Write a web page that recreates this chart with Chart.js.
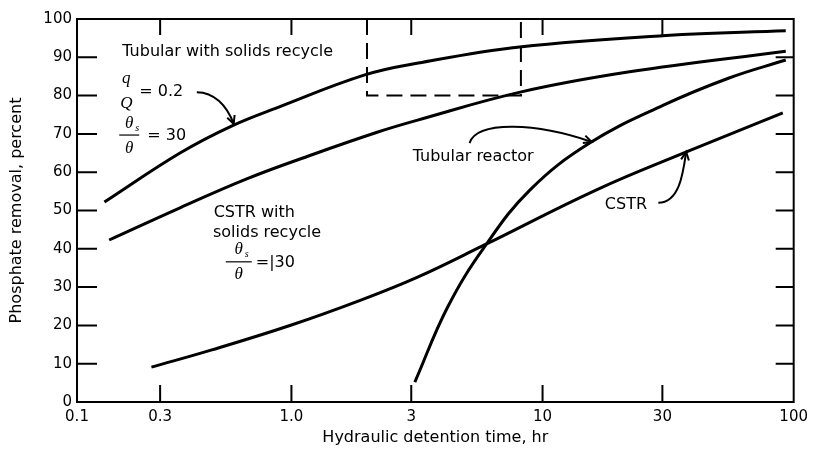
<!DOCTYPE html>
<html>
<head>
<meta charset="utf-8">
<script src="https://cdn.jsdelivr.net/npm/chart.js@4.4.1/dist/chart.umd.min.js"></script>
<style>
  html, body { margin: 0; padding: 0; background: #fff; }
  #wrap { width: 814px; height: 461px; }
</style>
</head>
<body>
<div id="wrap"><canvas id="grafico" width="814" height="461"></canvas></div>
<script>
// detention time (hr) -> phosphate removal (%)
const tubRecycleX  = [0.18, 0.36, 0.58, 0.89, 1.96, 3.2, 8.1, 31, 93];
const tubRecycleY  = [52.2, 65.0, 72.1, 77.0, 85.4, 88.5, 92.7, 95.7, 96.9];

const cstrRecycleX = [0.188, 0.36, 0.66, 1.2, 2.21, 3.18, 8.15, 22.2, 93];
const cstrRecycleY = [42.3, 50.7, 58.2, 64.5, 70.5, 73.6, 80.9, 86.2, 91.6];

const tubularX     = [3.1, 4.19, 5.87, 8.92, 15.4, 30.3, 55.3, 93];
const tubularY     = [5.2, 24.8, 40.5, 55.4, 67.6, 77.5, 84.6, 89.3];

const cstrX        = [0.277, 0.482, 1.0, 1.89, 3.18, 5.87, 16.4, 37.4, 90.5];
const cstrY        = [9.1, 13.6, 20.1, 26.6, 32.6, 41.0, 55.4, 65.3, 75.5];

// dashed box
const boxX = [2, 2, 8.2, 8.2];
const boxY = [100, 80, 80, 100];

// axis ticks (the origin of the time axis is printed as 0.1)
const xMin        = 0.14;
const xTickVals   = [xMin, 0.3, 1, 3, 10, 30, 100];
const xTickLabels = ['0.1', '0.3', '1.0', '3', '10', '30', '100'];
const xInnerTicks = [0.3, 1, 3, 10, 30];
const yInnerTicks = [10, 20, 30, 40, 50, 60, 70, 80, 90];

const SANS  = '"DejaVu Sans", "Liberation Sans", sans-serif';
const SERIF = '"Liberation Serif", "DejaVu Serif", serif';

const pts = (xs, ys) => xs.map((x, i) => ({ x, y: ys[i] }));

const curva = (data) => ({
    data,
    borderColor: '#000',
    borderWidth: 3,
    pointRadius: 0,
    fill: false,
    tension: 0.4,
});

// labels and arrows, positions in data units
const notas = [
    { text: 'Tubular with solids recycle', x: 0.212, y: 91.4 },
    { text: 'CSTR with',                   x: 0.49,  y: 49.3 },
    { text: 'solids recycle',              x: 0.487, y: 44.1 },
    { text: 'Tubular reactor',             x: 3.04,  y: 64.0 },
    { text: 'CSTR',                        x: 17.7,  y: 51.4 },
];

const fracoes = [
    { num: 'q', sub: '',  den: 'Q', x: 0.220, y: 81.2, half: 10, bar: false, rest: '= 0.2', dx: 13 },
    { num: 'θ', sub: 's', den: 'θ', x: 0.226, y: 69.7, half: 10, bar: true,  rest: '= 30',  dx: 18 },
    { num: 'θ', sub: 's', den: 'θ', x: 0.617, y: 36.6, half: 13, bar: true,  rest: '=|30',  dx: 17 },
];

const setas = [
    [[0.420, 80.9], [0.491, 80.9], [0.553, 77.5], [0.589, 72.6]],
    [[5.12, 67.6],  [5.50, 73.6],  [9.51, 72.8],  [15.7, 67.9]],
    [[28.9, 52.0],  [35.1, 52.0],  [36.3, 59.8],  [37.3, 65.3]],
];

const molduraPlugin = {
    id: 'moldura',
    afterDraw(chart) {
        const { ctx, chartArea: a, scales: { x, y } } = chart;
        ctx.save();
        ctx.strokeStyle = '#000';
        ctx.lineWidth = 2;
        ctx.strokeRect(a.left, a.top, a.right - a.left, a.bottom - a.top);

        ctx.beginPath();
        yInnerTicks.forEach(v => {
            const py = y.getPixelForValue(v);
            ctx.moveTo(a.left, py);  ctx.lineTo(a.left + 20, py);
            ctx.moveTo(a.right, py); ctx.lineTo(a.right - 18, py);
        });
        xInnerTicks.forEach(v => {
            const px = x.getPixelForValue(v);
            ctx.moveTo(px, a.bottom); ctx.lineTo(px, a.bottom - 17);
            ctx.moveTo(px, a.top);    ctx.lineTo(px, a.top + 16);
        });
        ctx.stroke();
        ctx.restore();
    }
};

const notasPlugin = {
    id: 'notas',
    afterDatasetsDraw(chart) {
        const { ctx, scales: { x, y } } = chart;
        const at = (vx, vy) => [x.getPixelForValue(vx), y.getPixelForValue(vy)];
        ctx.save();
        ctx.fillStyle = '#000';
        ctx.strokeStyle = '#000';
        ctx.textBaseline = 'middle';

        ctx.font = `16px ${SANS}`;
        ctx.textAlign = 'left';
        notas.forEach(n => {
            const [px, py] = at(n.x, n.y);
            ctx.fillText(n.text, px, py);
        });

        fracoes.forEach(f => {
            const [cx, cy] = at(f.x, f.y);
            ctx.textAlign = 'center';
            ctx.font = `italic 17px ${SERIF}`;
            ctx.fillText(f.num, cx, cy - 12);
            ctx.fillText(f.den, cx, cy + 13);
            if (f.sub) {
                ctx.font = `italic 10px ${SERIF}`;
                ctx.fillText(f.sub, cx + 8, cy - 7);
            }
            if (f.bar) {
                ctx.lineWidth = 1.2;
                ctx.beginPath();
                ctx.moveTo(cx - f.half, cy);
                ctx.lineTo(cx + f.half, cy);
                ctx.stroke();
            }
            ctx.textAlign = 'left';
            ctx.font = `16px ${SANS}`;
            ctx.fillText(f.rest, cx + f.dx, cy + 1);
        });

        ctx.lineWidth = 2;
        setas.forEach(s => {
            const p = s.map(([vx, vy]) => at(vx, vy));
            ctx.beginPath();
            ctx.moveTo(p[0][0], p[0][1]);
            ctx.bezierCurveTo(p[1][0], p[1][1], p[2][0], p[2][1], p[3][0], p[3][1]);
            ctx.stroke();
            // open arrow head along the last segment
            const ang = Math.atan2(p[3][1] - p[2][1], p[3][0] - p[2][0]);
            const len = 9;
            ctx.beginPath();
            ctx.moveTo(p[3][0] - len * Math.cos(ang - 0.45), p[3][1] - len * Math.sin(ang - 0.45));
            ctx.lineTo(p[3][0], p[3][1]);
            ctx.lineTo(p[3][0] - len * Math.cos(ang + 0.45), p[3][1] - len * Math.sin(ang + 0.45));
            ctx.stroke();
        });
        ctx.restore();
    }
};

Chart.defaults.color = '#000';
Chart.defaults.font.family = SANS;

new Chart(document.getElementById('grafico'), {
    type: 'line',
    data: {
        datasets: [
            curva(pts(tubRecycleX, tubRecycleY)),
            curva(pts(cstrRecycleX, cstrRecycleY)),
            curva(pts(tubularX, tubularY)),
            curva(pts(cstrX, cstrY)),
            {
                data: pts(boxX, boxY),
                borderColor: '#000',
                borderWidth: 2,
                borderDash: [16, 8],
                pointRadius: 0,
                tension: 0,
                fill: false,
            },
        ]
    },
    options: {
        responsive: false,
        animation: false,
        devicePixelRatio: 1,
        layout: { padding: { top: 19, right: 16, left: 0, bottom: 0 } },
        plugins: { legend: { display: false }, tooltip: { enabled: false } },
        scales: {
            x: {
                type: 'logarithmic',
                min: xMin,
                max: 100,
                afterBuildTicks: s => { s.ticks = xTickVals.map(v => ({ value: v })); },
                afterFit: s => { s.height = 59; },
                ticks: {
                    autoSkip: false,
                    maxRotation: 0,
                    padding: 6,
                    font: { size: 15 },
                    callback: (v, i) => xTickLabels[i],
                },
                grid: { display: false, drawTicks: false },
                border: { display: false },
                title: {
                    display: true,
                    text: 'Hydraulic detention time, hr',
                    font: { size: 16 },
                    padding: { top: 0, bottom: 14 },
                },
            },
            y: {
                min: 0,
                max: 100,
                afterFit: s => { s.width = 77; },
                ticks: { stepSize: 10, padding: 5, font: { size: 15 } },
                grid: { display: false, drawTicks: false },
                border: { display: false },
                title: {
                    display: true,
                    text: 'Phosphate removal, percent',
                    font: { size: 16 },
                    padding: { top: 7, bottom: 0 },
                },
            },
        },
    },
    plugins: [molduraPlugin, notasPlugin],
});
</script>
</body>
</html>
